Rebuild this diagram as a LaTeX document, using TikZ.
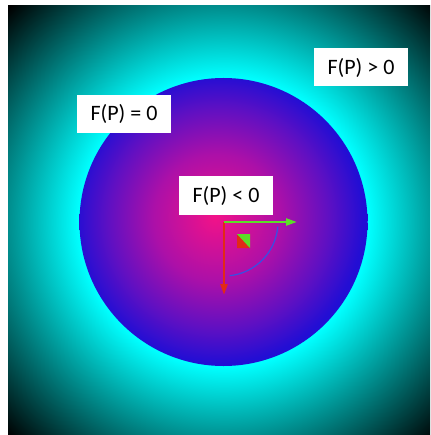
\documentclass[tikz,border=0pt]{standalone}
\usepackage{fontspec}
\setmainfont{Carlito}
\usetikzlibrary{arrows.meta, positioning}

\definecolor{glowcyan}{RGB}{0,255,255}
\definecolor{coreA}{RGB}{242,18,136}
\definecolor{coreB}{RGB}{172,16,168}
\definecolor{coreC}{RGB}{96,16,194}
\definecolor{coreD}{RGB}{34,14,212}
\definecolor{vecgreen}{RGB}{92,222,40}
\definecolor{vecred}{RGB}{226,42,22}
\definecolor{arcblue}{RGB}{55,80,228}

% radial shadings (25bp = radius of the shaded circle)
\pgfdeclareradialshading{glow}{\pgfpointorigin}{color(0bp)=(glowcyan); color(11.7bp)=(glowcyan); color(24.5bp)=(black); color(50bp)=(black)}
\pgfdeclareradialshading{core}{\pgfpoint{-1.5bp}{1bp}}{color(0bp)=(coreA); color(11bp)=(coreB); color(19bp)=(coreC); color(25bp)=(coreD); color(50bp)=(coreD)}

\begin{document}
\begin{tikzpicture}[
    x=1pt, y=-1pt,
    lbl/.style={rectangle, fill=white, inner sep=0pt, minimum width=94pt,
                minimum height=38pt, font=\fontsize{22}{26}\selectfont},
    vec/.style={-{Triangle[length=11pt, width=7pt]}, line width=2.3pt},
    levelarc/.style={arcblue, line width=1.2pt}
]
\useasboundingbox (0,0) rectangle (430,435);
\fill[white] (0,0) rectangle (430,435);

\coordinate (ctr) at (223.5,222);

% outside: F(P) > 0
\begin{scope}
  \clip (8,6) rectangle (430,435);
  \shade[shading=glow] (ctr) circle (310);
\end{scope}

% inside: F(P) < 0
\shade[shading=core] (ctr) circle (144);

% local frame at P
\coordinate (orig) at (224,222);
\coordinate (xtip) at (297,222);
\coordinate (ytip) at (224,295);
\draw[vec, vecred] (orig) -- (ytip);
\draw[vec, vecgreen] (orig) -- (xtip);
\draw[levelarc] ([shift={(5:54)}]orig) arc (5:84:54);

% right-angle mark
\fill[vecred] (237,234) -- (237,248) -- (250,248) -- cycle;
\fill[vecgreen] (237,234) -- (250,234) -- (250,248) -- cycle;

% Labels
\node[lbl] (lblpos) at (361,67.5) {F(P) > 0};
\node[lbl] (lblzero) at (124,114) {F(P) = 0};
\node[lbl] (lblneg) at (226,195.5) {F(P) < 0};

\end{tikzpicture}
\end{document}
